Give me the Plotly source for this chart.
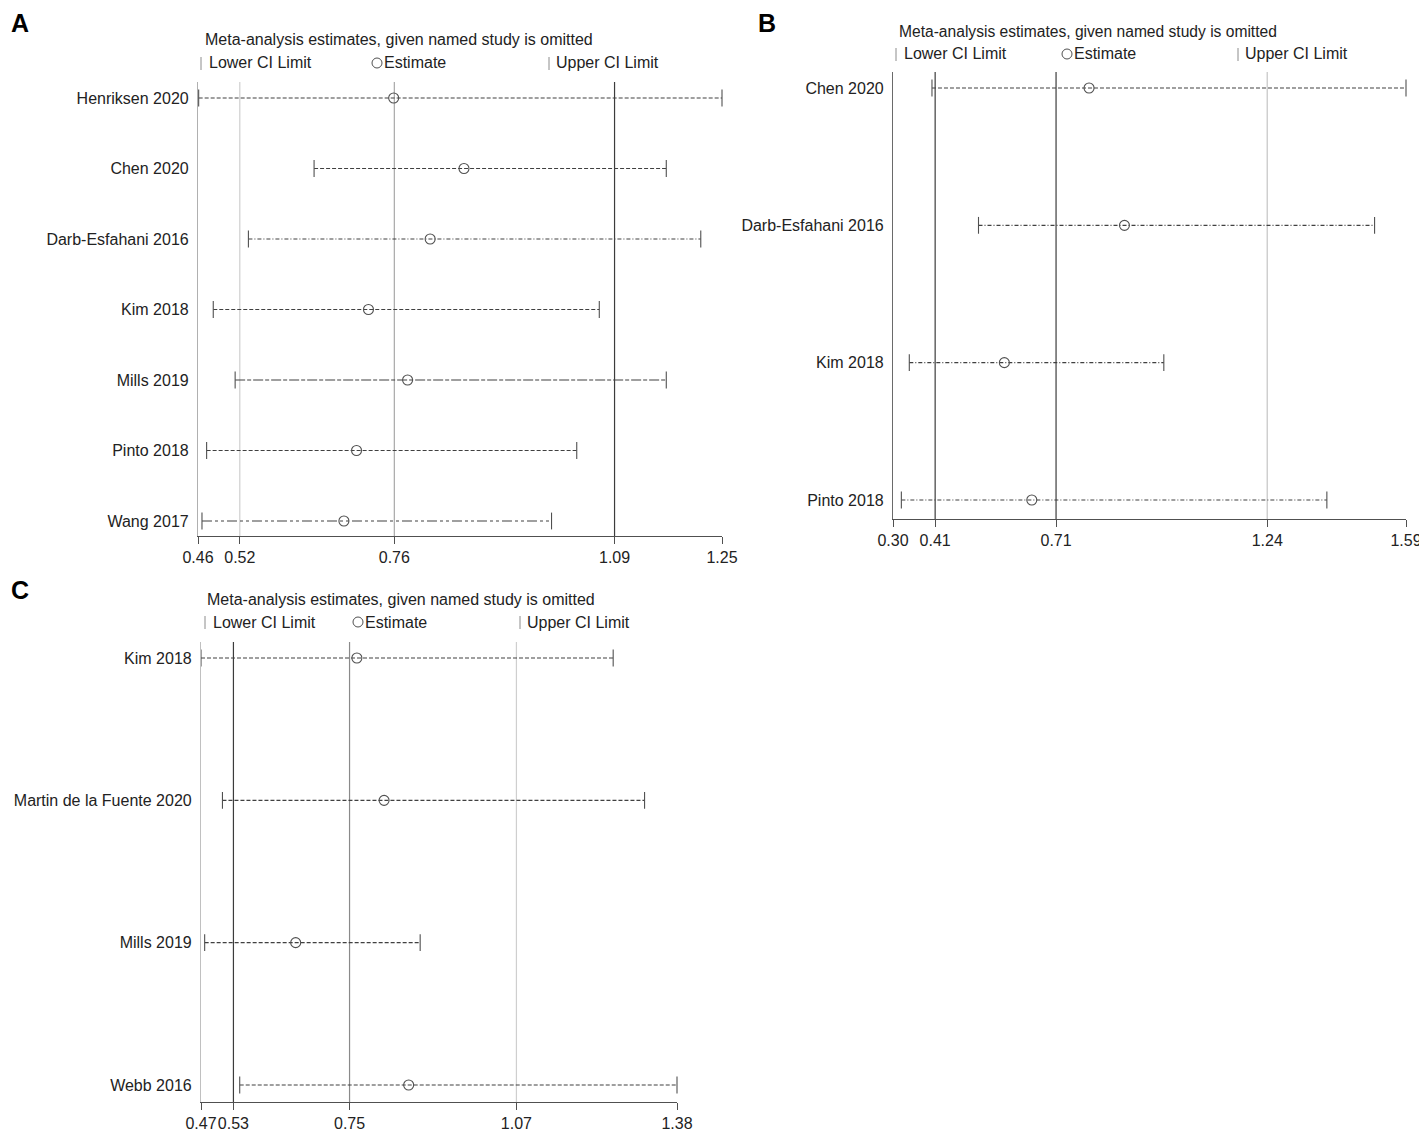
import plotly.graph_objects as go

# the page body puts the figure 8px in from the top-left corner of the window,
# so the figure is drawn smaller than the window and positions are in window pixels
OX, OY = 8, 8
W, H = 1427 - OX, 1139 - 2 * OY

# ---- panel A ----
a_studies = ["Henriksen 2020", "Chen 2020", "Darb-Esfahani 2016", "Kim 2018",
             "Mills 2019", "Pinto 2018", "Wang 2017"]
a_lower = [0.461, 0.635, 0.536, 0.483, 0.516, 0.473, 0.466]
a_est = [0.755, 0.861, 0.810, 0.717, 0.776, 0.699, 0.680]
a_upper = [1.25, 1.166, 1.218, 1.065, 1.166, 1.031, 0.993]
a_ref = [0.523, 0.756, 1.088]
a_ticks = [0.46, 0.523, 0.756, 1.088, 1.25]
a_ticktext = ["0.46", "0.52", "0.76", "1.09", "1.25"]

# ---- panel B ----
b_studies = ["Chen 2020", "Darb-Esfahani 2016", "Kim 2018", "Pinto 2018"]
b_lower = [0.398, 0.515, 0.341, 0.321]
b_est = [0.793, 0.882, 0.580, 0.649]
b_upper = [1.59, 1.511, 0.981, 1.391]
b_ref = [0.406, 0.710, 1.241]
b_ticks = [0.30, 0.406, 0.710, 1.241, 1.59]
b_ticktext = ["0.30", "0.41", "0.71", "1.24", "1.59"]

# ---- panel C ----
c_studies = ["Kim 2018", "Martin de la Fuente 2020", "Mills 2019", "Webb 2016"]
c_lower = [0.47, 0.511, 0.477, 0.544]
c_est = [0.768, 0.820, 0.651, 0.867]
c_upper = [1.258, 1.318, 0.889, 1.38]
c_ref = [0.532, 0.754, 1.073]
c_ticks = [0.47, 0.532, 0.754, 1.073, 1.38]
c_ticktext = ["0.47", "0.53", "0.75", "1.07", "1.38"]

SD = "4px,2px"
DD = "4px,2px,1px,2px"

# leg = (y, lower bar x, circle centre x, upper bar x)
panels = [
    dict(n="", studies=a_studies, lo=a_lower, est=a_est, hi=a_upper, ref=a_ref,
         ticks=a_ticks, ticktext=a_ticktext,
         dash=[SD, SD, DD, SD, "10px,2px,4px,2px", SD, "10px,3px,3px,3px,3px,3px"],
         refcol=["#cfcfcf", "#a8a8a8", "#3c3c3c"], ycol="#b0b0b0",
         px=(198, 722), py=(82, 536), rows=(98, 521), tsize=16,
         letter=("A", 10, 8), title=(203, 40), leg=(63, 201, 377, 549)),
    dict(n="2", studies=b_studies, lo=b_lower, est=b_est, hi=b_upper, ref=b_ref,
         ticks=b_ticks, ticktext=b_ticktext, dash=[SD, DD, DD, DD],
         refcol=["#3c3c3c", "#3c3c3c", "#c4c4c4"], ycol="#6a6a6a",
         px=(893, 1406), py=(72, 519), rows=(88, 500), tsize=15.6,
         letter=("B", 757, 8), title=(897, 31), leg=(54, 896, 1067, 1238)),
    dict(n="3", studies=c_studies, lo=c_lower, est=c_est, hi=c_upper, ref=c_ref,
         ticks=c_ticks, ticktext=c_ticktext, dash=[SD, SD, SD, SD],
         refcol=["#3c3c3c", "#8a8a8a", "#cfcfcf"], ycol="#c0c0c0",
         px=(201, 677), py=(642, 1102), rows=(658, 1085), tsize=16,
         letter=("C", 10, 575), title=(205, 599), leg=(622, 205, 358, 520)),
]

FONT = "Liberation Sans, Arial, Helvetica, sans-serif"


def fx(px):
    return (px - OX) / W


def fy(py):
    return 1 - (py - OY) / H


fig = go.Figure()
shapes = []
annotations = []

for p in panels:
    n = p["n"]
    xa, ya = "x" + n, "y" + n
    k = len(p["studies"])
    idx = list(range(k))

    # reference lines at the pooled estimate and its CI
    for v, col in zip(p["ref"], p["refcol"]):
        shapes.append(dict(type="line", xref=xa, yref=ya + " domain", x0=v, x1=v,
                           y0=0, y1=1, line=dict(color=col, width=1.2), layer="below"))

    for i in idx:
        fig.add_trace(go.Scatter(x=[p["lo"][i], p["hi"][i]], y=[i, i], mode="lines",
                                 line=dict(color="#404040", width=1.1, dash=p["dash"][i]),
                                 xaxis=xa, yaxis=ya, showlegend=False, hoverinfo="skip",
                                 cliponaxis=False))
    fig.add_trace(go.Scatter(x=p["lo"] + p["hi"], y=idx + idx, mode="markers",
                             marker=dict(symbol="line-ns", size=12,
                                         line=dict(color="#505050", width=1.1)),
                             xaxis=xa, yaxis=ya, showlegend=False, cliponaxis=False))
    fig.add_trace(go.Scatter(x=p["est"], y=idx, mode="markers",
                             marker=dict(symbol="circle-open", size=10, color="#505050",
                                         line=dict(width=1.1)),
                             xaxis=xa, yaxis=ya, showlegend=False, cliponaxis=False))

    x0, x1 = p["px"]
    top, bot = p["py"]
    r0, r1 = p["rows"]
    step = (r1 - r0) / (k - 1)
    pad_t = (r0 - top) / step
    pad_b = (bot - r1) / step

    fig.update_layout(**{
        "xaxis" + n: dict(domain=[fx(x0), fx(x1)], range=[p["ticks"][0], p["ticks"][-1]],
                          anchor=ya, automargin=False, tickangle=0,
                          tickvals=p["ticks"], ticktext=p["ticktext"],
                          ticks="outside", ticklen=7, tickcolor="#505050", tickwidth=1,
                          showline=True, linecolor="#505050", linewidth=1.2,
                          showgrid=False, zeroline=False,
                          tickfont=dict(size=16, color="#222222", family=FONT)),
        "yaxis" + n: dict(domain=[fy(bot), fy(top)], range=[k - 1 + pad_b, -pad_t],
                          anchor=xa, automargin=False,
                          tickvals=idx, ticktext=p["studies"], ticks="",
                          ticklabelstandoff=5,
                          showline=True, linecolor=p["ycol"], linewidth=1.2,
                          showgrid=False, zeroline=False,
                          tickfont=dict(size=16, color="#222222", family=FONT)),
    })

    letter, lx, ly = p["letter"]
    annotations.append(dict(text="<b>%s</b>" % letter, x=fx(lx), y=fy(ly),
                            xref="paper", yref="paper", xanchor="left", yanchor="top",
                            borderpad=0, showarrow=False,
                            font=dict(size=25, color="#000000", family=FONT)))
    tx, ty = p["title"]
    annotations.append(dict(text="Meta-analysis estimates, given named study is omitted",
                            x=fx(tx), y=fy(ty), xref="paper", yref="paper",
                            xanchor="left", yanchor="middle", showarrow=False,
                            font=dict(size=p["tsize"], color="#222222", family=FONT)))

    # legend: small bar, circle, small bar, each followed by its label
    gy, g1, g2, g3 = p["leg"]
    for bx in (g1, g3):
        shapes.append(dict(type="line", xref="paper", yref="paper",
                           x0=fx(bx), x1=fx(bx), y0=fy(gy + 7), y1=fy(gy - 6),
                           line=dict(color="#8c8c8c", width=1)))
    shapes.append(dict(type="circle", xref="paper", yref="paper",
                       x0=fx(g2 - 5), x1=fx(g2 + 5), y0=fy(gy + 5), y1=fy(gy - 5),
                       line=dict(color="#505050", width=1)))
    for gx, txt in [(g1 + 6, "Lower CI Limit"), (g2 + 5, "Estimate"),
                    (g3 + 5, "Upper CI Limit")]:
        annotations.append(dict(text=txt, x=fx(gx), y=fy(gy), xref="paper",
                                yref="paper", xanchor="left", yanchor="middle",
                                showarrow=False,
                                font=dict(size=16, color="#222222", family=FONT)))

fig.update_layout(width=W, height=H, margin=dict(l=0, r=0, t=0, b=0),
                  paper_bgcolor="white", plot_bgcolor="white",
                  shapes=shapes, annotations=annotations, showlegend=False)

fig.write_html("out.html")
